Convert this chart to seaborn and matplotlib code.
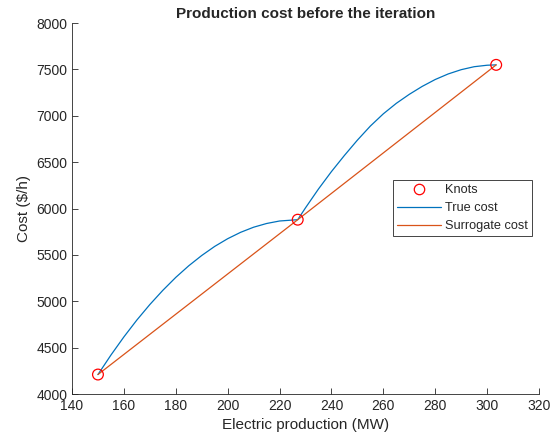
import matplotlib
matplotlib.use("Agg")
import matplotlib.pyplot as plt
from matplotlib.lines import Line2D
import seaborn as sns
import pandas as pd

# Data
knot_x = [150, 227, 303.5]
knot_cost = [4210, 5880, 7550]

true_x = [150, 155, 160, 165, 170, 175, 180, 185, 190, 195, 200, 205, 210, 215, 220, 227,
          230, 235, 240, 245, 250, 255, 260, 265, 270, 275, 280, 285, 290, 295, 300, 303.5]
true_cost = [4210, 4420, 4616, 4798, 4965, 5118, 5258, 5383, 5494, 5592, 5675, 5744, 5799, 5839, 5866, 5880,
             6008, 6211, 6399, 6573, 6738, 6890, 7022, 7135, 7232, 7318, 7392, 7452, 7498, 7530, 7546, 7550]

x_ticks = [140, 160, 180, 200, 220, 240, 260, 280, 300, 320]
y_ticks = [4000, 4500, 5000, 5500, 6000, 6500, 7000, 7500, 8000]

BLUE = "#0072BD"
ORANGE = "#D95319"

sns.set_style("ticks")
plt.rcParams['font.family'] = ['Liberation Sans', 'DejaVu Sans']
plt.rcParams['xtick.direction'] = 'in'
plt.rcParams['ytick.direction'] = 'in'

fig = plt.figure(figsize=(5.51, 4.45), dpi=100)
ax = fig.add_axes([0.1307, 0.1146, 0.8475, 0.8334])

true_df = pd.DataFrame({"x": true_x, "cost": true_cost})
knot_df = pd.DataFrame({"x": knot_x, "cost": knot_cost})

sns.lineplot(data=true_df, x="x", y="cost", ax=ax, color=BLUE, linewidth=0.9, sort=False)
sns.lineplot(data=knot_df, x="x", y="cost", ax=ax, color=ORANGE, linewidth=0.9, sort=False)
sns.scatterplot(data=knot_df, x="x", y="cost", ax=ax, marker="o", s=60,
                facecolors="none", edgecolor="red", linewidth=0.9, zorder=5)

ax.set_xlim(140, 320)
ax.set_ylim(4000, 8000)
ax.set_xticks(x_ticks)
ax.set_yticks(y_ticks)
ax.tick_params(axis='both', labelsize=10, length=4, width=0.6, colors='#262626')
for s in ['top', 'right']:
    ax.spines[s].set_visible(False)
for s in ['left', 'bottom']:
    ax.spines[s].set_linewidth(0.6)
    ax.spines[s].set_color('#262626')

ax.set_xlabel("Electric production (MW)", fontsize=11, color='#262626')
ax.set_ylabel("Cost ($/h)", fontsize=11, color='#262626')
ax.set_title("Production cost before the iteration", fontsize=11, fontweight='bold', pad=4)

handles = [
    Line2D([], [], linestyle='none', marker='o', markersize=7.5, markerfacecolor='none',
           markeredgecolor='red', markeredgewidth=0.9),
    Line2D([], [], color=BLUE, linewidth=0.9),
    Line2D([], [], color=ORANGE, linewidth=0.9),
]
leg = ax.legend(handles, ["Knots", "True cost", "Surrogate cost"], loc='upper left',
                bbox_to_anchor=(0.687, 0.577), fontsize=9.2, frameon=True, fancybox=False,
                edgecolor='#262626', framealpha=1, borderpad=0.35, labelspacing=0.45,
                handlelength=3.45, handletextpad=0.25, borderaxespad=0)
leg.get_frame().set_linewidth(0.6)

fig.savefig("out.png", dpi=100)
